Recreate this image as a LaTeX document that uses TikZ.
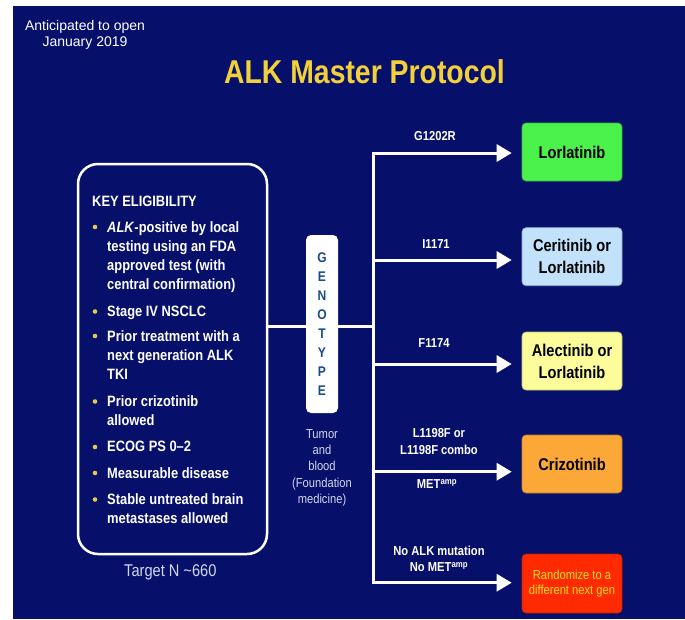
\documentclass[tikz,border=0pt]{standalone}
\usepackage{fontspec}
\setmainfont{Liberation Sans}[FakeStretch=0.86]
\newfontfamily\widefont{Liberation Sans}
\usetikzlibrary{arrows.meta,positioning,calc}

\definecolor{navy}{HTML}{06106A}
\definecolor{titleyellow}{HTML}{F2D03A}
\definecolor{gold}{HTML}{E8C84A}
\definecolor{genoblue}{HTML}{1A4A8A}
\definecolor{lorgreen}{HTML}{4CF24C}
\definecolor{cerblue}{HTML}{C2E2FC}
\definecolor{alecyellow}{HTML}{FCFC9A}
\definecolor{crizorange}{HTML}{FCA838}
\definecolor{randred}{HTML}{FF2A00}
\definecolor{randtext}{HTML}{F8E020}
\definecolor{paletext}{HTML}{D4D8EC}

\tikzset{
    wire/.style={draw=white, line width=3pt, line cap=rect},
    arr/.style={draw=white, line width=3pt, -{Triangle[length=15pt,width=17pt]}, shorten >=10pt},
    drug/.style={rectangle, rounded corners=4pt, minimum width=100pt, minimum height=58pt,
        align=center, text=black, line width=0.6pt, font=\fontsize{17}{22}\selectfont\bfseries},
    mut/.style={text=white, align=center, font=\fontsize{13}{17}\selectfont\bfseries},
    item/.style={text=white, anchor=north west, inner sep=0pt, align=left,
        font=\fontsize{15}{19.3}\selectfont\bfseries},
}

\begin{document}
\begin{tikzpicture}[x=1pt,y=-1pt]
    \useasboundingbox (0,0) rectangle (685,619);
    \fill[navy] (13,6) rectangle (685,619);

    \node[text=white, align=center, font=\widefont\fontsize{14}{16}\selectfont] (open) at (85,34.5) {Anticipated to open\\January 2019};
    \node[text=titleyellow, font=\fontsize{33}{36}\selectfont\bfseries] (title) at (364.5,72) {ALK Master Protocol};

    % eligibility
    \node[draw=white, line width=2.5pt, rounded corners=20pt, minimum width=189pt, minimum height=390pt] (elig) at (172.5,359) {};
    \node[item, anchor=west] (head) at (92,201) {KEY ELIGIBILITY};
    \foreach \y/\t [count=\i] in {221/{\textit{ALK}-positive by local\\testing using an FDA\\approved test (with\\central confirmation)},
        305.5/{Stage IV NSCLC},
        330/{Prior treatment with a\\next generation ALK\\TKI},
        395.5/{Prior crizotinib\\allowed},
        441/{ECOG PS 0\textendash2},
        467/{Measurable disease},
        493.5/{Stable untreated brain\\metastases allowed}}{
        \node[item] (b\i) at (107,\y) {\t};
        \fill[gold] (95,\y+6) circle (2.3pt);
    }
    \node[text=paletext, font=\fontsize{17}{20}\selectfont] (target) at (170.3,572) {Target N \textasciitilde660};

    % genotype
    \coordinate (hub) at (373,326);
    \draw[wire] (elig.east |- hub) -- (hub);
    \node[fill=white, rounded corners=5pt, minimum width=32pt, minimum height=178pt, inner sep=0pt,
        text=genoblue, align=center, font=\fontsize{14}{19}\selectfont\bfseries] (geno) at (322,324) {G\\E\\N\\O\\T\\Y\\P\\E};
    \node[below=16pt of geno, inner sep=0pt, text=paletext, align=center, font=\fontsize{13}{16.3}\selectfont] (source) {Tumor\\and\\blood\\(Foundation\\medicine)};

    % branches
    \foreach \i/\y in {1/153,2/260,3/364,4/471.7,5/582.7}
        \coordinate (t\i) at (373,\y);
    \draw[wire] (t1) -- (t5);

    \node[drug, fill=lorgreen, draw=lorgreen!75!black] (lor) at (572,152) {Lorlatinib};
    \node[drug, fill=cerblue, draw=cerblue!75!black] (cer) at (572,256.7) {Ceritinib or\\Lorlatinib};
    \node[drug, fill=alecyellow, draw=alecyellow!75!black] (alec) at (572,361) {Alectinib or\\Lorlatinib};
    \node[drug, fill=crizorange, draw=crizorange!75!black] (criz) at (572,464) {Crizotinib};
    \node[drug, fill=randred, draw=randred!75!black, minimum height=59pt, text=randtext,
        font=\fontsize{13}{14.3}\selectfont] (rand) at (572,583.5) {Randomize to a\\different next gen};

    \draw[arr] (t1) -- (t1 -| lor.west);
    \draw[arr] (t2) -- (t2 -| cer.west);
    \draw[arr] (t3) -- (t3 -| alec.west);
    \draw[arr] (t4) -- (t4 -| criz.west);
    \draw[arr] (t5) -- (t5 -| rand.west);

    \node[mut] (m1) at (435,136) {G1202R};
    \node[mut] (m2) at (436,244) {I1171};
    \node[mut] (m3) at (434,343.3) {F1174};
    \node[mut] (m4) at (439,441.4) {L1198F or\\L1198F combo};
    \node[mut] (m5) at (437,484) {MET\textsuperscript{amp}};
    \node[mut, font=\fontsize{13}{16}\selectfont\bfseries] (m6) at (439,558.7) {No ALK mutation\\No MET\textsuperscript{amp}};
\end{tikzpicture}
\end{document}
